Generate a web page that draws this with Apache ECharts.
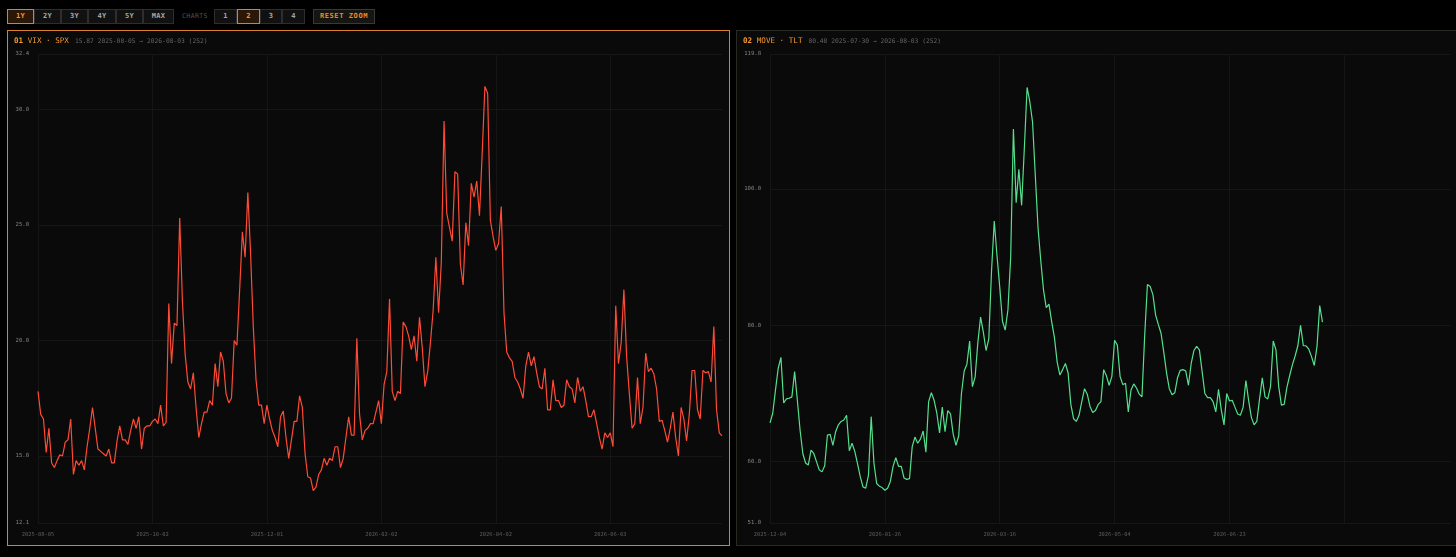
<!DOCTYPE html>
<html>
<head>
<meta charset="utf-8">
<script src="https://cdn.jsdelivr.net/npm/echarts@6/dist/echarts.min.js"></script>
<style>
  html, body { margin:0; padding:0; background:#000; width:1456px; height:557px; overflow:hidden; }
  body { position:relative; font-family:"DejaVu Sans Mono", "Liberation Mono", monospace; }
  .btn { position:absolute; top:9px; height:15px; box-sizing:border-box; border:1px solid #2e2e2e; background:#111;
         color:#a8a8a8; font-size:7px; font-weight:bold; line-height:13px; text-align:center; letter-spacing:0.3px; }
  .btn.active { border-color:#d98125; background:#2a1707; color:#f39a2c; }
  .lbl { position:absolute; top:9px; height:15px; line-height:15px; color:#555; font-size:6.5px; letter-spacing:0.4px; }
  .panel { position:absolute; top:30px; width:723px; height:516px; box-sizing:border-box; background:#0a0a0a; border:1px solid #2a2a24; }
  .panel.active { border-color:#d9822b; }
  .title { position:absolute; left:6px; top:5px; font-size:7.6px; white-space:nowrap; z-index:2; }
  .title .num { color:#f39a2c; font-weight:bold; }
  .title .name { color:#f39a2c; }
  .title .meta { color:#666; font-size:6.3px; margin-left:6px; }
  .chart { position:absolute; left:0; top:0; width:721px; height:514px; }
</style>
</head>
<body>
<div class="btn active" style="left:7px;width:27px;">1Y</div>
<div class="btn" style="left:34px;width:27px;">2Y</div>
<div class="btn" style="left:61px;width:27px;">3Y</div>
<div class="btn" style="left:88px;width:28px;">4Y</div>
<div class="btn" style="left:116px;width:27px;">5Y</div>
<div class="btn" style="left:143px;width:31px;">MAX</div>
<div class="lbl" style="left:182px;">CHARTS</div>
<div class="btn" style="left:214px;width:23px;">1</div>
<div class="btn active" style="left:237px;width:23px;">2</div>
<div class="btn" style="left:260px;width:22px;">3</div>
<div class="btn" style="left:282px;width:23px;">4</div>
<div class="btn" style="left:313px;width:62px;color:#f08a1c;border-color:#3a3a34;background:#151512;letter-spacing:0.6px;">RESET ZOOM</div>

<div class="panel active" style="left:7px;">
  <div class="title"><span class="num">01</span> <span class="name">VIX · SPX</span><span class="meta">15.87 2025-08-05 → 2026-08-03 (252)</span></div>
  <div class="chart" id="c1"></div>
</div>
<div class="panel" style="left:736px;">
  <div class="title"><span class="num">02</span> <span class="name">MOVE · TLT</span><span class="meta">80.48 2025-07-30 → 2026-08-03 (252)</span></div>
  <div class="chart" id="c2"></div>
</div>

<script>
// ---- data ----
const vixValues = [
17.8,16.8,16.6,15.15,16.2,14.7,14.5,14.8,15.05,15.0,
15.6,15.7,16.6,14.2,14.8,14.6,14.8,14.4,15.4,16.2,
17.1,16.2,15.3,15.2,15.1,15.0,15.3,14.7,14.7,15.65,
16.3,15.7,15.7,15.5,16.1,16.6,16.2,16.7,15.3,16.2,
16.3,16.3,16.5,16.6,16.4,17.2,16.3,16.45,21.6,19.0,
20.75,20.65,25.3,21.7,19.4,18.2,17.9,18.6,17.1,15.8,
16.4,16.9,16.9,17.4,17.2,19.0,18.0,19.5,19.1,17.7,
17.3,17.5,20.0,19.8,22.2,24.7,23.6,26.4,23.8,20.6,
18.3,17.2,17.2,16.4,17.2,16.6,16.1,15.8,15.4,16.7,
16.95,15.8,14.9,15.7,16.5,16.5,17.6,17.1,15.1,14.1,
14.05,13.5,13.65,14.2,14.4,14.9,14.6,14.9,14.8,15.4,
15.4,14.5,14.9,15.8,16.7,15.9,15.9,20.1,16.8,15.7,
16.1,16.2,16.4,16.4,16.9,17.4,16.4,18.1,18.65,21.8,
17.8,17.4,17.8,17.7,20.8,20.6,20.2,19.6,20.2,19.1,
21.0,19.7,18.0,18.65,19.9,21.3,23.6,21.2,23.4,29.5,
25.5,24.9,24.3,27.3,27.2,23.3,22.4,25.1,24.1,26.8,
26.2,26.9,25.4,28.1,31.0,30.7,25.2,24.5,23.9,24.2,
25.8,21.2,19.5,19.25,19.1,18.4,18.2,17.9,17.5,18.9,
19.5,18.9,19.3,18.6,18.0,17.9,18.8,17.0,17.0,18.3,
17.4,17.4,17.1,17.2,18.3,18.0,17.9,17.3,18.4,17.8,
18.0,17.4,16.7,16.7,17.0,16.4,15.8,15.3,16.0,15.8,
16.0,15.4,21.5,19.0,19.9,22.2,19.3,17.7,16.2,16.4,
18.4,16.4,17.1,19.45,18.65,18.8,18.55,17.9,16.5,16.55,
16.1,15.6,16.2,16.9,15.8,15.0,17.1,16.6,15.65,16.8,
18.7,18.7,17.0,16.6,18.7,18.6,18.65,18.2,20.6,17.0,
16.0,15.87
];
const moveValues = [
65.7,67.1,70.5,73.7,75.3,68.6,69.2,69.3,69.5,73.2,
69.0,64.6,61.2,59.8,59.5,61.7,61.2,60.0,58.8,58.5,
59.4,63.9,64.0,62.4,64.4,65.4,65.9,66.1,66.8,61.6,
62.7,61.5,59.7,57.8,56.3,56.1,58.0,66.6,59.8,56.8,
56.4,56.2,55.8,56.1,57.1,59.3,60.6,59.3,59.3,57.6,
57.4,57.5,62.2,63.6,62.7,63.3,64.5,61.4,68.8,70.1,
69.0,67.1,64.2,68.0,64.4,67.5,67.0,64.0,62.4,63.8,
70.0,73.3,74.3,77.7,71.0,72.4,77.5,81.2,79.0,76.3,
78.0,88.0,95.3,90.2,85.6,80.6,79.3,82.3,90.0,108.8,
98.0,102.9,97.6,106.0,114.9,112.8,109.8,102.0,94.3,89.5,
85.2,82.6,83.1,80.5,78.2,74.6,72.7,73.5,74.4,73.0,
68.4,66.3,65.9,66.8,68.8,70.7,69.9,68.1,67.2,67.5,
68.4,68.8,73.5,72.6,71.2,72.5,77.8,77.1,72.5,71.3,
71.5,67.3,70.5,71.4,70.8,69.9,69.5,78.5,86.0,85.7,
84.5,81.5,80.1,78.8,76.0,73.0,70.7,69.8,70.1,72.3,
73.4,73.5,73.3,71.2,74.4,76.3,76.9,76.4,73.2,70.0,
69.4,69.4,68.8,67.3,70.6,67.6,65.4,70.0,68.9,69.0,
68.0,67.0,66.8,68.0,71.9,69.0,66.5,65.4,65.9,69.2,
72.3,69.5,69.2,71.0,77.7,76.4,71.0,68.3,68.4,70.9,
72.6,74.2,75.5,77.0,80.0,77.0,77.0,76.5,75.4,74.1,
76.9,82.9,80.48
];
const vixAxisRange = [12.1, 32.4];
const moveAxisRange = [51.0, 119.8];
const vixStart = '2025-08-05';
const moveStart = '2025-12-04';
const vixHolidays = ['2025-12-25','2026-01-01','2026-01-19','2026-02-16','2026-04-03','2026-05-25','2026-06-19','2026-07-03'];
const moveHolidays = ['2025-12-25','2026-01-01','2026-01-19','2026-05-25','2026-07-04'];
const moveCategoryCount = 250;

// ---- category dates ----
function buildDates(start, count, skipSat, holidays) {
  const out = [];
  const d = new Date(start + 'T00:00:00Z');
  while (out.length < count) {
    const dow = d.getUTCDay();
    const s = d.toISOString().slice(0, 10);
    const ok = dow !== 0 && (dow !== 6 || !skipSat) && holidays.indexOf(s) < 0;
    if (ok) out.push(s);
    d.setUTCDate(d.getUTCDate() + 1);
  }
  return out;
}
const vixDates = buildDates(vixStart, vixValues.length, true, vixHolidays);
const moveDates = buildDates(moveStart, moveValues.length, false, moveHolidays);
const moveCategories = moveDates.concat(new Array(moveCategoryCount - moveDates.length).fill(''));

function makeOption(cats, values, range, color, gridLeft) {
  return {
    animation: false,
    backgroundColor: 'transparent',
    grid: { left: gridLeft, right: 7, top: 23, bottom: 22 },
    xAxis: {
      type: 'category', data: cats, boundaryGap: false,
      axisLine: { show: false }, axisTick: { show: false },
      axisLabel: { interval: 41, color: '#5e5e5e', fontSize: 5.4, margin: 9,
                   fontFamily: 'DejaVu Sans Mono' },
      splitLine: { show: true, interval: 41, lineStyle: { color: '#151515', width: 1 } }
    },
    yAxis: {
      type: 'value', min: range[0], max: range[1], splitNumber: 3, scale: true,
      axisLine: { show: false }, axisTick: { show: false },
      axisLabel: { color: '#858585', fontSize: 5.6, margin: 9, fontFamily: 'DejaVu Sans Mono',
                   formatter: v => v.toFixed(1) },
      splitLine: { show: true, lineStyle: { color: '#161616', width: 1 } }
    },
    series: [{
      type: 'line', data: values, showSymbol: false, symbol: 'none',
      lineStyle: { color: color, width: 1.2 }, itemStyle: { color: color }
    }]
  };
}

const c1 = echarts.init(document.getElementById('c1'));
c1.setOption(makeOption(vixDates, vixValues, vixAxisRange, '#ff4b36', 30));
const c2 = echarts.init(document.getElementById('c2'));
c2.setOption(makeOption(moveCategories, moveValues, moveAxisRange, '#55e08e', 33));
</script>
</body>
</html>
